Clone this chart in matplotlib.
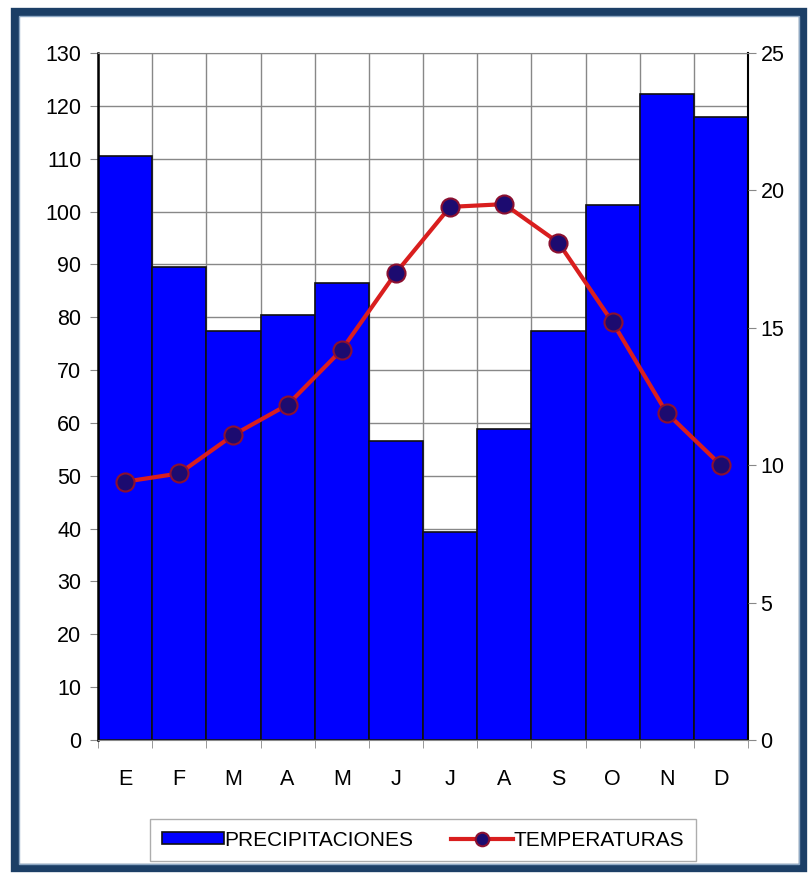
import matplotlib.pyplot as plt
import numpy as np
from matplotlib.patches import Rectangle

meses = ["E", "F", "M", "A", "M", "J", "J", "A", "S", "O", "N", "D"]
precipitaciones = [110.5, 89.5, 77.3, 80.4, 86.5, 56.5, 39.3, 58.8, 77.4, 101.3, 122.2, 117.8]
temperaturas = [9.4, 9.7, 11.1, 12.2, 14.2, 17.0, 19.4, 19.5, 18.1, 15.2, 11.9, 10.0]

plt.rcParams['font.family'] = ['Liberation Sans', 'DejaVu Sans']

fig = plt.figure(figsize=(8.09, 8.73), dpi=100)

# marco exterior
fig.patches.append(Rectangle((15/809, 1-868/873), 788/809, 856/873, transform=fig.transFigure,
                             fill=False, edgecolor="#1c3f66", linewidth=6, zorder=0))
fig.patches.append(Rectangle((19/809, 1-864/873), 780/809, 848/873, transform=fig.transFigure,
                             fill=False, edgecolor="#8fa9c4", linewidth=1, zorder=0))

ax = fig.add_axes([98/809, 1-740/873, 650/809, 687/873])
x = np.arange(len(meses))
ax.bar(x, precipitaciones, width=1.0, color="#0000ff", edgecolor="#101010", linewidth=1.2,
       label="PRECIPITACIONES", zorder=2)
ax.set_xlim(-0.5, 11.5)
ax.set_ylim(0, 130)
ax.set_yticks(np.arange(0, 131, 10))
ax.set_xticks(x)
ax.set_xticklabels(meses)
ax.set_xticks(np.arange(-0.5, 12, 1), minor=True)
ax.tick_params(axis="x", which="major", length=0, pad=21, labelsize=15.5)
ax.tick_params(axis="x", which="minor", length=6, color="#888888")
ax.tick_params(axis="y", length=6, color="#888888", labelsize=15.5, pad=6)
ax.grid(True, which="minor", axis="x", color="#888888", linewidth=1, zorder=0)
ax.grid(True, which="major", axis="y", color="#888888", linewidth=1, zorder=0)
ax.set_axisbelow(True)
ax.spines["top"].set_color("#888888")
ax.spines["left"].set_linewidth(1.8)
ax.spines["bottom"].set_color("#888888")
ax.spines["right"].set_linewidth(1.5)

ax2 = ax.twinx()
ax2.plot(x, temperaturas, color="#d91e1e", linewidth=3, marker="o", markersize=13,
         markerfacecolor="#1c0b70", markeredgecolor="#8b1030", markeredgewidth=1.5,
         label="TEMPERATURAS", zorder=3)
ax2.set_ylim(0, 25)
ax2.set_yticks(np.arange(0, 26, 5))
ax2.tick_params(axis="y", length=6, color="#888888", labelsize=15.5, pad=3)
for s in ax2.spines.values():
    s.set_visible(False)

h1, l1 = ax.get_legend_handles_labels()
h2, l2 = ax2.get_legend_handles_labels()
fig.legend(h1 + h2, l1 + l2, loc="center", bbox_to_anchor=(423/809, 1-840/873), ncol=2,
           fontsize=15, frameon=True, fancybox=False, edgecolor="#999999",
           handlelength=3.0, handleheight=0.5, handletextpad=0.0, columnspacing=1.8,
           borderpad=0.55, borderaxespad=0, markerscale=0.75)

fig.savefig("out.png", dpi=100)
